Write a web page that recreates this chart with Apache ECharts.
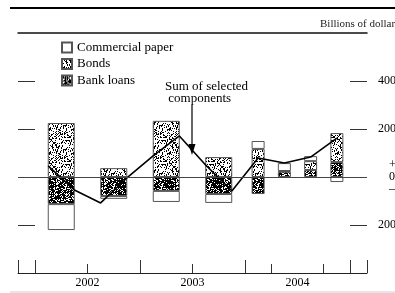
<!DOCTYPE html>
<html>
<head>
<meta charset="utf-8">
<script src="https://cdn.jsdelivr.net/npm/echarts@6/dist/echarts.min.js"></script>
<style>
  html, body { margin: 0; padding: 0; background: #fff; }
  #chart { width: 395px; height: 293px; }
</style>
</head>
<body>
<div id="chart"></div>
<script>
  // half-year bars (2002-2003), placed at mid-half, in fractional years
  var halfX = [2002.25, 2002.75, 2003.25, 2003.75];
  var halfBonds = [225, 37, 234, 83];
  var halfLoans = [-113, -79, -58, -71];
  var halfPaper = [-108, -12, -46, -37];

  // quarterly bars (2004)
  var qtrX = [2004.125, 2004.375, 2004.625, 2004.875];
  var qtrBonds = [117, 3, 37, 121];
  var qtrLoans = [-71, 22, 29, 62];
  var qtrPaper = [33, 33, 21, -21];

  // sum of selected components, quarterly 2002Q1 - 2004Q4
  var sumX = [2002.125, 2002.375, 2002.625, 2002.875, 2003.125, 2003.375,
              2003.625, 2003.875, 2004.125, 2004.375, 2004.625, 2004.875];
  var sumValues = [46, -54, -108, -4, 88, 171, 50, -58, 79, 58, 83, 162];

  var xMin = 2001.838, xMax = 2005.162;
  var yearLabels = [2002.5, 2003.5, 2004.5];
  var majorTicks = [xMin, 2002, 2003, 2004, 2005, xMax];
  var minorTicks = [2002.5, 2003.5, 2004.25, 2004.75];
  var yTicks = [-200, 200, 400];
  var yLabels = [-200, 0, 200, 400];

  var serif = 'Liberation Serif';

  // stipple texture for the scanned look
  function stipple(density, seed) {
    var c = document.createElement('canvas');
    c.width = 24; c.height = 24;
    var ctx = c.getContext('2d');
    ctx.fillStyle = '#fff';
    ctx.fillRect(0, 0, 24, 24);
    ctx.fillStyle = '#000';
    var s = seed;
    for (var y = 0; y < 24; y++) {
      for (var x = 0; x < 24; x++) {
        s = (Math.imul(s, 1664525) + 1013904223) >>> 0;
        if (s / 4294967296 < density) ctx.fillRect(x, y, 1, 1);
      }
    }
    return { image: c, repeat: 'repeat' };
  }
  var bondsFill = stipple(0.3, 7);
  var loansFill = stipple(0.72, 13);

  // value goes in column 0 so the stack is built on y, not on x
  function valueFirst(xs, ys) {
    return xs.map(function (x, i) { return [ys[i], x]; });
  }

  function barSeries(name, xs, ys, fill, axis, width, stack) {
    return {
      name: name,
      type: 'bar',
      xAxisIndex: axis,
      yAxisIndex: 0,
      stack: stack,
      barWidth: width,
      encode: { x: 1, y: 0 },
      itemStyle: { color: fill, borderColor: '#555', borderWidth: 1 },
      emphasis: { disabled: true },
      data: valueFirst(xs, ys)
    };
  }

  var xBase = {
    type: 'value',
    min: xMin,
    max: xMax,
    position: 'bottom',
    splitLine: { show: false },
    axisLine: { show: false, onZero: false }
  };

  var chart = echarts.init(document.getElementById('chart'));
  var option = {
    animation: false,
    title: {
      text: 'Billions of dollars',
      left: 320,
      top: 19,
      padding: 0,
      textStyle: { fontFamily: serif, fontSize: 11, fontWeight: 'normal', color: '#222' }
    },
    legend: {
      data: ['Commercial paper', 'Bonds', 'Bank loans'],
      orient: 'vertical',
      left: 61,
      top: 41,
      padding: 0,
      itemWidth: 10,
      itemHeight: 10,
      itemGap: 3.5,
      icon: 'rect',
      selectedMode: false,
      textStyle: { fontFamily: serif, fontSize: 13, lineHeight: 12, color: '#000' }
    },
    grid: { left: 18, right: 28, top: 33, bottom: 20, containLabel: false, outerBoundsMode: 'none' },
    xAxis: [
      Object.assign({}, xBase, {
        axisLine: { show: true, onZero: false, lineStyle: { color: '#222', width: 1 } },
        axisTick: { show: true, inside: true, length: 13, customValues: majorTicks, lineStyle: { color: '#333' } },
        axisLabel: {
          show: true, margin: 4, customValues: yearLabels,
          fontFamily: serif, fontSize: 12, color: '#000',
          formatter: function (v) { return String(Math.floor(v)); }
        }
      }),
      Object.assign({}, xBase, {
        axisTick: { show: true, inside: true, length: 9, customValues: minorTicks, lineStyle: { color: '#333' } },
        axisLabel: { show: false }
      }),
      Object.assign({}, xBase, {
        position: 'top',
        axisLine: { show: true, onZero: false, lineStyle: { color: '#111', width: 1.5 } },
        axisTick: { show: false },
        axisLabel: { show: false }
      })
    ],
    yAxis: [
      {
        type: 'value', min: -400, max: 600, position: 'left',
        splitLine: { show: false },
        axisLine: { show: false, onZero: false },
        axisTick: { show: true, inside: true, length: 17, customValues: yTicks, lineStyle: { color: '#333' } },
        axisLabel: { show: false }
      },
      {
        type: 'value', min: -400, max: 600, position: 'right',
        splitLine: { show: false },
        axisLine: { show: false, onZero: false },
        axisTick: { show: true, inside: true, length: 17, customValues: yTicks, lineStyle: { color: '#333' } },
        axisLabel: {
          show: true, margin: 11, customValues: yLabels,
          fontFamily: serif, fontSize: 12, color: '#000',
          formatter: function (v) {
            if (v === 0) return '{z|+\n0\n\u2013}';
            return String(Math.abs(v));
          },
          rich: { z: { fontFamily: serif, fontSize: 12, lineHeight: 12, color: '#000', padding: [0, 0, 0, 11] } }
        }
      }
    ],
    graphic: [
      { type: 'line', shape: { x1: 10, y1: 8, x2: 395, y2: 8 }, style: { stroke: '#000', lineWidth: 2 } },
      { type: 'line', shape: { x1: 10, y1: 292, x2: 395, y2: 292 }, style: { stroke: '#ccc', lineWidth: 1 } },
      {
        type: 'text', left: 165, top: 80,
        style: { text: 'Sum of selected\n components', fontFamily: serif, fontSize: 13, lineHeight: 12, fill: '#000', align: 'left' }
      },
      { type: 'line', shape: { x1: 192, y1: 105, x2: 192, y2: 147 }, style: { stroke: '#000', lineWidth: 1.2 } },
      { type: 'polygon', shape: { points: [[188.5, 144], [195.5, 144], [192, 155]] }, style: { fill: '#000' } }
    ],
    series: [
      barSeries('Bank loans', halfX, halfLoans, loansFill, 0, 27, 'half'),
      barSeries('Bonds', halfX, halfBonds, bondsFill, 0, 27, 'half'),
      barSeries('Commercial paper', halfX, halfPaper, '#fff', 0, 27, 'half'),
      barSeries('Bank loans', qtrX, qtrLoans, loansFill, 1, 13, 'qtr'),
      barSeries('Bonds', qtrX, qtrBonds, bondsFill, 1, 13, 'qtr'),
      barSeries('Commercial paper', qtrX, qtrPaper, '#fff', 1, 13, 'qtr'),
      {
        name: 'Sum of selected components',
        type: 'line',
        xAxisIndex: 1,
        yAxisIndex: 0,
        symbol: 'none',
        lineStyle: { color: '#000', width: 1.6 },
        emphasis: { disabled: true },
        data: sumX.map(function (x, i) { return [x, sumValues[i]]; }),
        markLine: {
          silent: true,
          symbol: 'none',
          label: { show: false },
          lineStyle: { color: '#444', width: 1, type: 'solid' },
          data: [{ yAxis: 0 }]
        }
      }
    ]
  };
  chart.setOption(option);
</script>
</body>
</html>
